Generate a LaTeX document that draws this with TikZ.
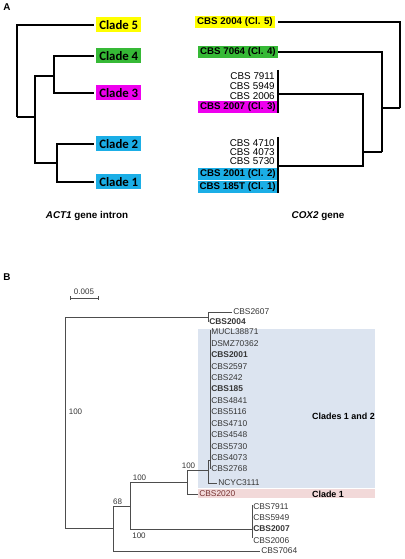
\documentclass[tikz,border=0pt]{standalone}
\usepackage{fontspec}
\setmainfont{Liberation Sans}
\newfontfamily\cladefont{Carlito}
\definecolor{clyellow}{HTML}{FFFF00}
\definecolor{clgreen}{HTML}{36B936}
\definecolor{clmagenta}{HTML}{EE00EE}
\definecolor{clblue}{HTML}{1BAEE6}
\definecolor{bgblue}{HTML}{DCE4F0}
\definecolor{bgpink}{HTML}{F2D9D9}
\definecolor{txtgray}{HTML}{363636}
\definecolor{lngray}{HTML}{4D4D4D}

\begin{document}
\begin{tikzpicture}[x=0.75pt,y=-0.75pt,
	treeA/.style={line width=1.5pt, line join=miter},
	treeC/.style={line width=1pt, line join=miter},
	treeB/.style={line width=0.6pt, lngray},
	clade/.style={anchor=west, font=\cladefont\fontsize{9.6}{10}\selectfont\bfseries, inner xsep=2.25pt, inner ysep=0pt, minimum height=11.25pt},
	cox/.style={anchor=east, font=\fontsize{7.3}{8}\selectfont\bfseries, inner xsep=1.5pt, inner ysep=0pt, minimum height=9pt},
	strain/.style={anchor=east, font=\fontsize{7.4}{8}\selectfont, inner sep=0pt},
	caption/.style={font=\fontsize{7.4}{8}\selectfont\bfseries},
	leafB/.style={anchor=west, font=\fontsize{6.3}{7}\selectfont, txtgray, inner sep=0.75pt},
	leafBb/.style={leafB, font=\fontsize{6.3}{7}\selectfont\bfseries},
	boot/.style={font=\fontsize{6}{7}\selectfont, txtgray, inner sep=0pt}]
	\useasboundingbox (0,0) rectangle (404,559);

	% panel A
	\node[caption] (labA) at (7,7) {A};

	% ACT1 tree
	\node[clade, fill=clyellow] (c5) at (96,25) {Clade 5};
	\node[clade, fill=clgreen] (c4) at (96,56) {Clade 4};
	\node[clade, fill=clmagenta] (c3) at (96,93) {Clade 3};
	\node[clade, fill=clblue] (c2) at (96,144) {Clade 2};
	\node[clade, fill=clblue] (c1) at (96,182) {Clade 1};

	\coordinate (a0) at (17,117);
	\coordinate (a1) at (35,117);
	\coordinate (a43) at (54,76);
	\coordinate (a21) at (57,163);
	\draw[treeA] (a0) |- ([xshift=-1.5pt]c5.west);
	\draw[treeA] (a0) -- (a1);
	\draw[treeA] (a1) |- (a43);
	\draw[treeA] (a1) |- (a21);
	\draw[treeA] (a43) |- ([xshift=-1.5pt]c4.west);
	\draw[treeA] (a43) |- ([xshift=-1.5pt]c3.west);
	\draw[treeA] (a21) |- ([xshift=-1.5pt]c2.west);
	\draw[treeA] (a21) |- ([xshift=-1.5pt]c1.west);

	\node[caption] (capA) at (87,216) {\textit{ACT1} gene intron};

	% COX2 tree
	\node[cox, fill=clyellow] (r5) at (275,22) {CBS 2004 (Cl. 5)};
	\node[cox, fill=clgreen] (r4) at (278,52) {CBS 7064 (Cl. 4)};
	\node[strain] (s7911) at (275,76) {CBS 7911};
	\node[strain] (s5949) at (275,86) {CBS 5949};
	\node[strain] (s2006) at (275,96) {CBS 2006};
	\node[cox, fill=clmagenta] (r3) at (278,107) {CBS 2007 (Cl. 3)};
	\node[strain] (s4710) at (275,143) {CBS 4710};
	\node[strain] (s4073) at (275,152) {CBS 4073};
	\node[strain] (s5730) at (275,161) {CBS 5730};
	\node[cox, fill=clblue] (r2) at (278,174) {CBS 2001 (Cl. 2)};
	\node[cox, fill=clblue] (r1) at (278,187) {CBS 185T (Cl. 1)};

	\coordinate (g3t) at (278,70);
	\coordinate (g3b) at (278,113);
	\coordinate (g3) at (278,94);
	\coordinate (g12t) at (278,137);
	\coordinate (g12b) at (278,193);
	\coordinate (g12) at (278,166);
	\coordinate (p0) at (400,108);
	\coordinate (p1) at (382,152);
	\coordinate (p2) at (363,152);
	\draw[treeC] (g3t) -- (g3b);
	\draw[treeC] (g12t) -- (g12b);
	\draw[treeC] (p0) |- ([xshift=2pt]r5.east);
	\draw[treeC] (p0) -| (p1);
	\draw[treeC] (p1) |- (r4.east);
	\draw[treeC] (p1) -- (p2);
	\draw[treeC] (p2) |- (g3);
	\draw[treeC] (p2) |- (g12);

	\node[caption] (capC) at (318,216) {\textit{COX2} gene};

	% panel B
	\node[caption] (labB) at (7,277) {B};

	\fill[bgblue] (198,329) rectangle (375,488);
	\fill[bgpink] (198,489) rectangle (375,498);

	% scale bar
	\draw[treeB] (70,296) -- (70,300) (70,298) -- (98,298) (98,296) -- (98,300);
	\node[boot] (scl) at (84,292) {0.005};

	\node[leafB] (c2607) at (232,312) {CBS2607};
	\node[leafBb] (c2004) at (208,322) {CBS2004};
	\node[leafB] (m0) at (210,332) {MUCL38871};
	\node[leafB] (m1) at (210,343.4) {DSMZ70362};
	\node[leafBb] (m2) at (210,354.8) {CBS2001};
	\node[leafB] (m3) at (210,366.3) {CBS2597};
	\node[leafB] (m4) at (210,377.7) {CBS242};
	\node[leafBb] (m5) at (210,389.1) {CBS185};
	\node[leafB] (m6) at (210,400.5) {CBS4841};
	\node[leafB] (m7) at (210,411.9) {CBS5116};
	\node[leafB] (m8) at (210,423.3) {CBS4710};
	\node[leafB] (m9) at (210,434.8) {CBS4548};
	\node[leafB] (m10) at (210,446.2) {CBS5730};
	\node[leafB] (m11) at (210,457.6) {CBS4073};
	\node[leafB] (m12) at (210,469) {CBS2768};
	\node[leafB] (ncyc) at (217,483) {NCYC3111};
	\node[leafB, text=black!55!red!60!gray] (c2020) at (198,494) {CBS2020};
	\node[leafB] (c7911) at (252,507) {CBS7911};
	\node[leafB] (c5949) at (252,518) {CBS5949};
	\node[leafBb] (c2007) at (252,529) {CBS2007};
	\node[leafB] (c2006) at (252,541) {CBS2006};
	\node[leafB] (c7064) at (260,551) {CBS7064};

	\node[anchor=east, font=\fontsize{6.7}{7}\selectfont\bfseries, inner sep=0pt] (cl12) at (375,416) {Clades 1 and 2};
	\node[font=\fontsize{6.7}{7}\selectfont\bfseries, inner sep=0pt] (cl1) at (328,494) {Clade 1};

	\coordinate (nR) at (65,420);
	\coordinate (nT) at (208,317);
	\coordinate (n68) at (113,528);
	\coordinate (nb) at (130,506);
	\coordinate (nc) at (187,482);
	\coordinate (ns) at (208,470);
	\coordinate (cbj) at (210,460);
	\coordinate (cbt) at (210,330);
	\coordinate (lg) at (252,529);
	\coordinate (lgt) at (252,505);
	\coordinate (lgb) at (252,538);

	\draw[treeB] (nR) |- (nT);
	\draw[treeB] (nR) |- (n68);
	\draw[treeB] (nT) |- (c2607.west);
	\draw[treeB] (nT) |- (c2004.west);
	\draw[treeB] (n68) |- (nb);
	\draw[treeB] (n68) |- (c7064.west);
	\draw[treeB] (nb) |- (nc);
	\draw[treeB] (nb) |- (lg);
	\draw[treeB] (lgt) -- (lgb);
	\draw[treeB] (nc) |- (ns);
	\draw[treeB] (nc) |- (c2020.west);
	\draw[treeB] (ns) |- (cbj);
	\draw[treeB] (ns) |- (ncyc.west);
	\draw[treeB] (cbt) -- (m12.west);

	\node[boot] (bR) at (75.5,412) {100};
	\node[boot] (b68) at (117.5,502) {68};
	\node[boot] (bb1) at (139.5,478) {100};
	\node[boot] (bb2) at (139,536) {100};
	\node[boot] (bc) at (188.5,466) {100};
\end{tikzpicture}
\end{document}
